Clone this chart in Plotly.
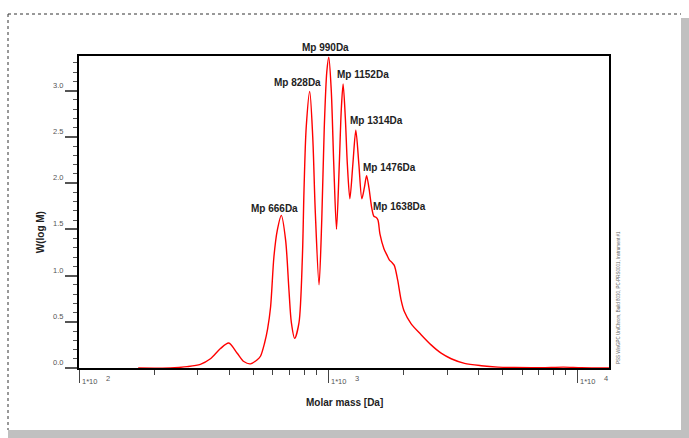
import numpy as np
import plotly.graph_objects as go

# ---- data ----
molar_mass = [172.8, 232.5, 271.4, 306.9, 336.9, 369.5, 399.0, 431.4, 458.6, 488.0,
              519.3, 535.5, 555.6, 571.2, 587.3, 605.6, 625.0, 648.6, 675.0, 696.0,
              711.7, 733.8, 763.7, 788.0, 799.8, 816.2, 843.2, 867.0, 887.4, 919.1,
              942.4, 964.5, 987.2, 1005.6, 1029, 1053, 1080, 1108, 1129, 1148,
              1172, 1194, 1222, 1256, 1291, 1328, 1365, 1397, 1426, 1457,
              1498, 1526, 1555, 1584, 1613, 1674, 1722, 1759, 1803, 1842,
              1901, 1960, 2021, 2150, 2360, 2588, 2840, 3116, 3525, 4115,
              4804, 5588, 7176, 8799, 10390, 14660]
w_log_m = [0.0, 0.0, 0.015, 0.04, 0.10, 0.21, 0.27, 0.16, 0.07, 0.045,
           0.09, 0.13, 0.27, 0.42, 0.66, 1.20, 1.49, 1.65, 1.38, 0.84,
           0.49, 0.32, 0.49, 1.20, 1.92, 2.60, 2.99, 2.50, 1.70, 0.90,
           1.60, 2.60, 3.20, 3.36, 3.00, 2.20, 1.50, 2.20, 2.80, 3.07,
           2.70, 2.20, 1.83, 2.20, 2.57, 2.20, 1.83, 1.95, 2.08, 1.95,
           1.72, 1.64, 1.63, 1.60, 1.45, 1.29, 1.22, 1.17, 1.14, 1.11,
           0.95, 0.74, 0.61, 0.48, 0.36, 0.25, 0.16, 0.10, 0.05, 0.025,
           0.01, 0.005, 0.004, 0.01, 0.003, 0.0]

peak_mp = [666, 828, 990, 1152, 1314, 1476, 1638]
peak_labels = ["Mp 666Da", "Mp 828Da", "Mp 990Da", "Mp 1152Da",
               "Mp 1314Da", "Mp 1476Da", "Mp 1638Da"]
y_ticks = [0.0, 0.5, 1.0, 1.5, 2.0, 2.5, 3.0]
y_tick_text = ["0.0", "0.5", "1.0", "1.5", "2.0", "2.5", "3.0"]
x_major = [100, 1000, 10000]
x_major_exp = ["2", "3", "4"]
x_minor = [m * d for d in (100, 1000) for m in range(2, 10)]

# ---- layout constants ----
FONT = "Arial, Liberation Sans, sans-serif"
# label placement: (x shift px, y in data units, y shift px)
label_pos = {
    666: (-10, 1.72, 0), 828: (-10, 3.085, 0), 990: (-2, 3.36, 10),
    1152: (20, 3.168, 0), 1314: (19, 2.674, 0), 1476: (19, 2.165, 0),
    1638: (18, 1.744, 0),
}

fig = go.Figure()
fig.add_trace(go.Scatter(
    x=molar_mass, y=w_log_m, mode="lines",
    line=dict(color="#ff0000", width=1.4, shape="spline", smoothing=0.8),
    hoverinfo="skip", showlegend=False))

annotations = []
for mp, lab in zip(peak_mp, peak_labels):
    dx, yy, dy = label_pos[mp]
    annotations.append(dict(x=np.log10(mp), y=yy, xref="x", yref="y",
                            text="<b>" + lab + "</b>",
                            showarrow=False, xshift=dx, yshift=dy,
                            font=dict(family=FONT, size=10, color="#222"),
                            xanchor="center", yanchor="middle"))

for v, t in zip(y_ticks, y_tick_text):
    annotations.append(dict(x=0, y=v, xref="paper", yref="y", text=t, showarrow=False,
                            xanchor="right", yanchor="bottom", xshift=-14, yshift=-1,
                            font=dict(family=FONT, size=7.5, color="#555")))

for v, e in zip(x_major, x_major_exp):
    annotations.append(dict(x=np.log10(v), y=0, xref="x", yref="paper", text="1*10",
                            showarrow=False, xanchor="left", yanchor="top",
                            xshift=1, yshift=-7,
                            font=dict(family=FONT, size=7.5, color="#555")))
    annotations.append(dict(x=np.log10(v), y=0, xref="x", yref="paper", text=e,
                            showarrow=False, xanchor="left", yanchor="top",
                            xshift=25, yshift=-4,
                            font=dict(family=FONT, size=7.5, color="#555")))

annotations.append(dict(x=0.5, y=0, xref="paper", yref="paper", text="<b>Molar mass [Da]</b>",
                        showarrow=False, xanchor="center", yanchor="middle",
                        xshift=0, yshift=-34,
                        font=dict(family=FONT, size=10, color="#222")))
annotations.append(dict(x=0, y=0.435, xref="paper", yref="paper", text="<b>W(log M)</b>",
                        showarrow=False, xanchor="center", yanchor="middle",
                        xshift=-39, textangle=-90,
                        font=dict(family=FONT, size=10, color="#222")))
annotations.append(dict(x=1, y=0.224, xref="paper", yref="paper",
                        text="PSS WinGPC UniChrom, Build 8030, PC-PRS0001, Instrument #1",
                        showarrow=False, xanchor="center", yanchor="middle",
                        xshift=9, textangle=-90,
                        font=dict(family=FONT, size=4.5, color="#666")))

shapes = [
    # dotted frame (top and left)
    dict(type="line", xref="paper", yref="paper", xsizemode="pixel", ysizemode="pixel",
         xanchor=0, yanchor=0, x0=-71, x1=602, y0=354, y1=354,
         line=dict(color="#333", width=1, dash="dot")),
    dict(type="line", xref="paper", yref="paper", xsizemode="pixel", ysizemode="pixel",
         xanchor=0, yanchor=0, x0=-71, x1=-71, y0=354, y1=-62,
         line=dict(color="#333", width=1, dash="dot")),
    # gray shadow
    dict(type="rect", xref="paper", yref="paper", xsizemode="pixel", ysizemode="pixel",
         xanchor=0, yanchor=0, x0=602, x1=612, y0=350, y1=-72,
         line=dict(width=0), fillcolor="#c0c0c0"),
    dict(type="rect", xref="paper", yref="paper", xsizemode="pixel", ysizemode="pixel",
         xanchor=0, yanchor=0, x0=-71, x1=612, y0=-62, y1=-72,
         line=dict(width=0), fillcolor="#c0c0c0"),
]

fig.update_layout(
    width=689, height=438,
    margin=dict(l=79, r=80, t=56, b=70),
    paper_bgcolor="white", plot_bgcolor="white",
    showlegend=False,
    annotations=annotations, shapes=shapes,
    xaxis=dict(type="log", range=[2, 4.127], tickmode="array", tickvals=x_major,
               showticklabels=False, ticks="outside", ticklen=13, tickwidth=1,
               tickcolor="#444", showgrid=False, zeroline=False,
               showline=True, linecolor="black", linewidth=1.5, mirror=True,
               minor=dict(tickmode="array", tickvals=x_minor, ticks="outside",
                          ticklen=5, tickwidth=1, tickcolor="#444", showgrid=False)),
    yaxis=dict(range=[0, 3.373], tickmode="array", tickvals=y_ticks,
               showticklabels=False, ticks="outside", ticklen=12, tickwidth=1.5,
               tickcolor="#555", showgrid=False, zeroline=False,
               showline=True, linecolor="black", linewidth=1.5, mirror=True,
               minor=dict(dtick=0.1, tick0=0, ticks="outside", ticklen=4,
                          tickwidth=1, tickcolor="#555", showgrid=False)),
)

fig.write_html("out.html")
